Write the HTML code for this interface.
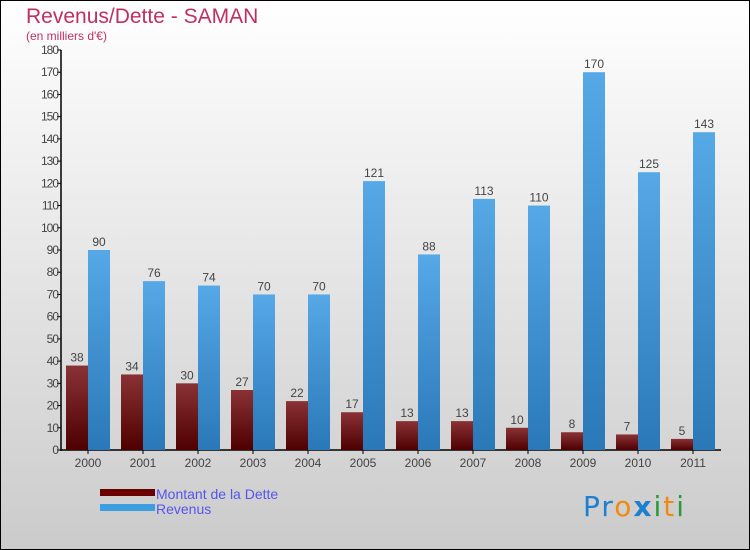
<!DOCTYPE html>
<html><head><meta charset="utf-8"><style>
body{margin:0}
#c{width:750px;height:550px;position:relative;overflow:hidden;font-family:"Liberation Sans",sans-serif}
</style></head><body>
<div id="c">
<svg width="750" height="550" id="svg">
<defs>
<linearGradient id="bg" x1="0" y1="0" x2="0" y2="1"><stop offset="0" stop-color="#ffffff"/><stop offset="1" stop-color="#cbcbcb"/></linearGradient>
<linearGradient id="gd" x1="0" y1="0" x2="0" y2="1"><stop offset="0" stop-color="#8a3236"/><stop offset="1" stop-color="#4e0000"/></linearGradient>
<linearGradient id="gr" x1="0" y1="0" x2="0" y2="1"><stop offset="0" stop-color="#56a8e6"/><stop offset="1" stop-color="#2a78b8"/></linearGradient>
</defs>
<rect x="0.5" y="0.5" width="749" height="549" fill="url(#bg)" stroke="#000"/>
<text x="26" y="23" font-size="21" fill="#c0305f">Revenus/Dette - SAMAN</text>
<text x="26" y="40" font-size="12" fill="#c0305f">(en milliers d'€)</text>
<g id="axes"></g><g id="bars"></g>
<rect x="100" y="489" width="55" height="7" fill="#6a0000"/>
<rect x="100" y="504" width="55" height="7" fill="#3a9ee0"/>
<text x="156" y="499" font-size="14" fill="#5555ee">Montant de la Dette</text>
<text x="156" y="514" font-size="14" fill="#5555ee">Revenus</text>
<text x="583" y="516" font-size="28" letter-spacing="2" font-family="DejaVu Sans, sans-serif"><tspan fill="#1c7fd0">Pr</tspan><tspan fill="#f08a10">o</tspan><tspan fill="#1c7fd0" font-weight="bold">x</tspan><tspan fill="#2a9a3a">i</tspan><tspan fill="#f08a10">t</tspan><tspan fill="#2a9a3a">i</tspan></text>
</svg></div>
<script>
const categories=["2000","2001","2002","2003","2004","2005","2006","2007","2008","2009","2010","2011"];
const dette=[38,34,30,27,22,17,13,13,10,8,7,5];
const revenus=[90,76,74,70,70,121,88,113,110,170,125,143];
const yTicks=[0,10,20,30,40,50,60,70,80,90,100,110,120,130,140,150,160,170,180];
const NS="http://www.w3.org/2000/svg";
const y0=450,y1=50,ymax=180,x0=61,x1=721;
const step=55,first=88;
function y(v){return y0-(v/ymax)*(y0-y1);}
function xc(i){return first+i*step;}
function mk(t,a,p){const e=document.createElementNS(NS,t);for(const k in a)e.setAttribute(k,a[k]);p.appendChild(e);return e;}
const ax=document.getElementById('axes'),bg=document.getElementById('bars');
yTicks.forEach(v=>{
 const l=mk('line',{x1:x0-4,x2:x0,y1:y(v),y2:y(v),stroke:'#000'},ax);
 
 
 const t=mk('text',{x:x0-3,y:y(v)+4,'font-size':12,'text-anchor':'end',fill:'#444','letter-spacing':'-1'},ax);
 t.textContent=v;
 
 
});
const ya=mk('line',{x1:x0,x2:x0,y1:y1,y2:y0+1,stroke:'#000','stroke-width':1.5},ax);


const xa=mk('line',{x1:x0,x2:x1,y1:y0,y2:y0,stroke:'#000','stroke-width':1.5},ax);


categories.forEach((c,i)=>{
 const cx=xc(i);
 const tk=mk('line',{x1:cx,x2:cx,y1:y0,y2:y0+4,stroke:'#000'},ax);
 
 
 const t=mk('text',{x:cx,y:y0+17,'font-size':12,'text-anchor':'middle',fill:'#444'},ax);
 t.textContent=c;
 
 
 const d=mk('rect',{x:cx-22,y:y(dette[i]),width:22,height:y0-y(dette[i]),fill:'url(#gd)'},bg);
 
 
 const r=mk('rect',{x:cx,y:y(revenus[i]),width:22,height:y0-y(revenus[i]),fill:'url(#gr)'},bg);
 
 
 const dl=mk('text',{x:cx-11,y:y(dette[i])-4,'font-size':12,'text-anchor':'middle',fill:'#444'},bg);
 dl.textContent=dette[i];
 
 
 const rl=mk('text',{x:cx+11,y:y(revenus[i])-4,'font-size':12,'text-anchor':'middle',fill:'#444'},bg);
 rl.textContent=revenus[i];
 
 
});
</script>
</body></html>
